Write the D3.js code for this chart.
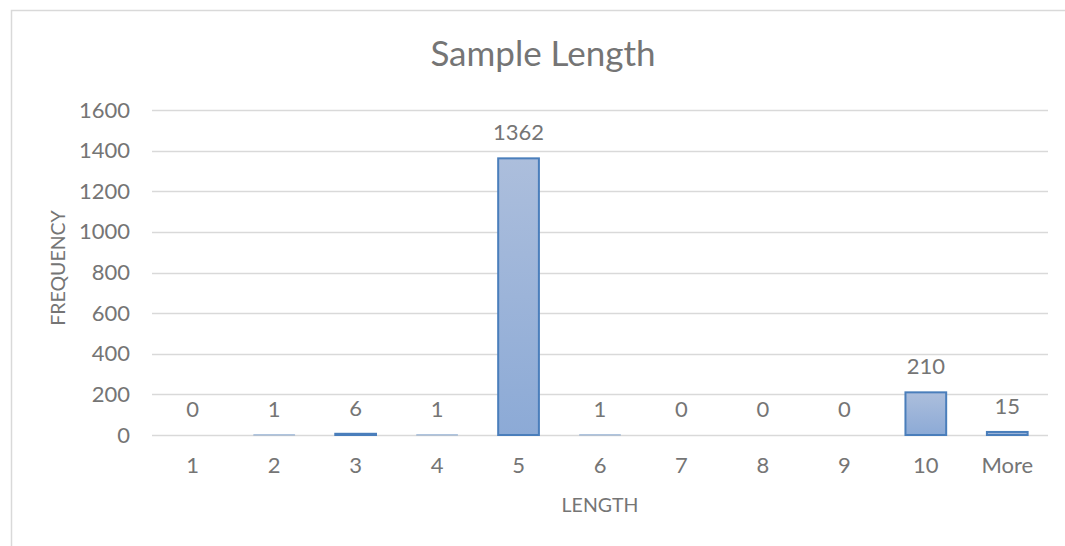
<!DOCTYPE html>
<html>
<head>
<meta charset="utf-8">
<script src="https://cdn.jsdelivr.net/npm/d3@7"></script>
<style>
  body { margin: 0; background: #fff; }
  text { font-family: Lato, "Open Sans", sans-serif; fill: #757575; }
</style>
</head>
<body>
<div id="chart"></div>
<script>
const categories = ["1", "2", "3", "4", "5", "6", "7", "8", "9", "10", "More"];
const frequency = [0, 1, 6, 1, 1362, 1, 0, 0, 0, 210, 15];
const yTicks = [0, 200, 400, 600, 800, 1000, 1200, 1400, 1600];

const width = 1065, height = 546;
const margin = { top: 110, right: 17, bottom: 111, left: 152 };
const plotW = width - margin.left - margin.right;
const plotH = height - margin.top - margin.bottom;

const svg = d3.select("#chart").append("svg")
  .attr("width", width)
  .attr("height", height);

// chart frame (only top and left edges are visible in the crop)
svg.append("path")
  .attr("d", "M11.5,546 L11.5,10.5 L1065,10.5")
  .attr("fill", "none")
  .attr("stroke", "#d9d9d9")
  .attr("stroke-width", 1.5);

const defs = svg.append("defs");
const grad = defs.append("linearGradient")
  .attr("id", "barFill")
  .attr("x1", 0).attr("y1", 0).attr("x2", 0).attr("y2", 1);
grad.append("stop").attr("offset", "0%").attr("stop-color", "#acbedc");
grad.append("stop").attr("offset", "100%").attr("stop-color", "#8caad6");

const g = svg.append("g")
  .attr("transform", "translate(" + margin.left + "," + margin.top + ")");

const x = d3.scaleBand().domain(categories).range([0, plotW]).paddingInner(0.5).paddingOuter(0.25);
const y = d3.scaleLinear().domain([0, 1600]).range([plotH, 0]);

// gridlines
g.append("g")
  .selectAll("line")
  .data(yTicks)
  .enter()
  .append("line")
  .attr("x1", 0)
  .attr("x2", plotW)
  .attr("y1", d => Math.round(y(d)) + 0.5)
  .attr("y2", d => Math.round(y(d)) + 0.5)
  .attr("stroke", "#d9d9d9")
  .attr("stroke-width", 1.3);

// y axis labels
const yAxis = g.append("g")
  .call(d3.axisLeft(y).tickValues(yTicks).tickFormat(d3.format("d")).tickSize(0).tickPadding(22));
yAxis.select(".domain").remove();
yAxis.selectAll("text")
  .style("font-size", "22px")
  .attr("fill", "#757575");

// x axis labels
const xAxis = g.append("g")
  .attr("transform", "translate(0," + plotH + ")")
  .call(d3.axisBottom(x).tickSize(0).tickPadding(22));
xAxis.select(".domain").remove();
xAxis.selectAll("text")
  .style("font-size", "22px")
  .attr("fill", "#757575");

// bars
g.selectAll("rect.bar")
  .data(frequency)
  .enter()
  .append("rect")
  .attr("class", "bar")
  .attr("x", (d, i) => x(categories[i]))
  .attr("y", d => y(d))
  .attr("width", x.bandwidth())
  .attr("height", d => plotH - y(d))
  .attr("fill", "url(#barFill)")
  .attr("stroke", "#4a7ebb")
  .attr("stroke-width", d => d < 5 ? 1 : 2)
  .attr("stroke-opacity", d => d < 5 ? 0.5 : 1);

// data labels
g.selectAll("text.lbl")
  .data(frequency)
  .enter()
  .append("text")
  .attr("class", "lbl")
  .attr("x", (d, i) => x(categories[i]) + x.bandwidth() / 2)
  .attr("y", d => y(d) - 18)
  .attr("text-anchor", "middle")
  .style("font-size", "22px")
  .text(d => d);

// title
svg.append("text")
  .attr("x", 543)
  .attr("y", 66)
  .attr("text-anchor", "middle")
  .style("font-size", "35px")
  .text("Sample Length");

// axis titles
svg.append("text")
  .attr("x", margin.left + plotW / 2)
  .attr("y", 512)
  .attr("text-anchor", "middle")
  .style("font-size", "19.5px")
  .text("LENGTH");

svg.append("text")
  .attr("transform", "translate(65,268) rotate(-90)")
  .attr("text-anchor", "middle")
  .style("font-size", "19.5px")
  .text("FREQUENCY");
</script>
</body>
</html>
